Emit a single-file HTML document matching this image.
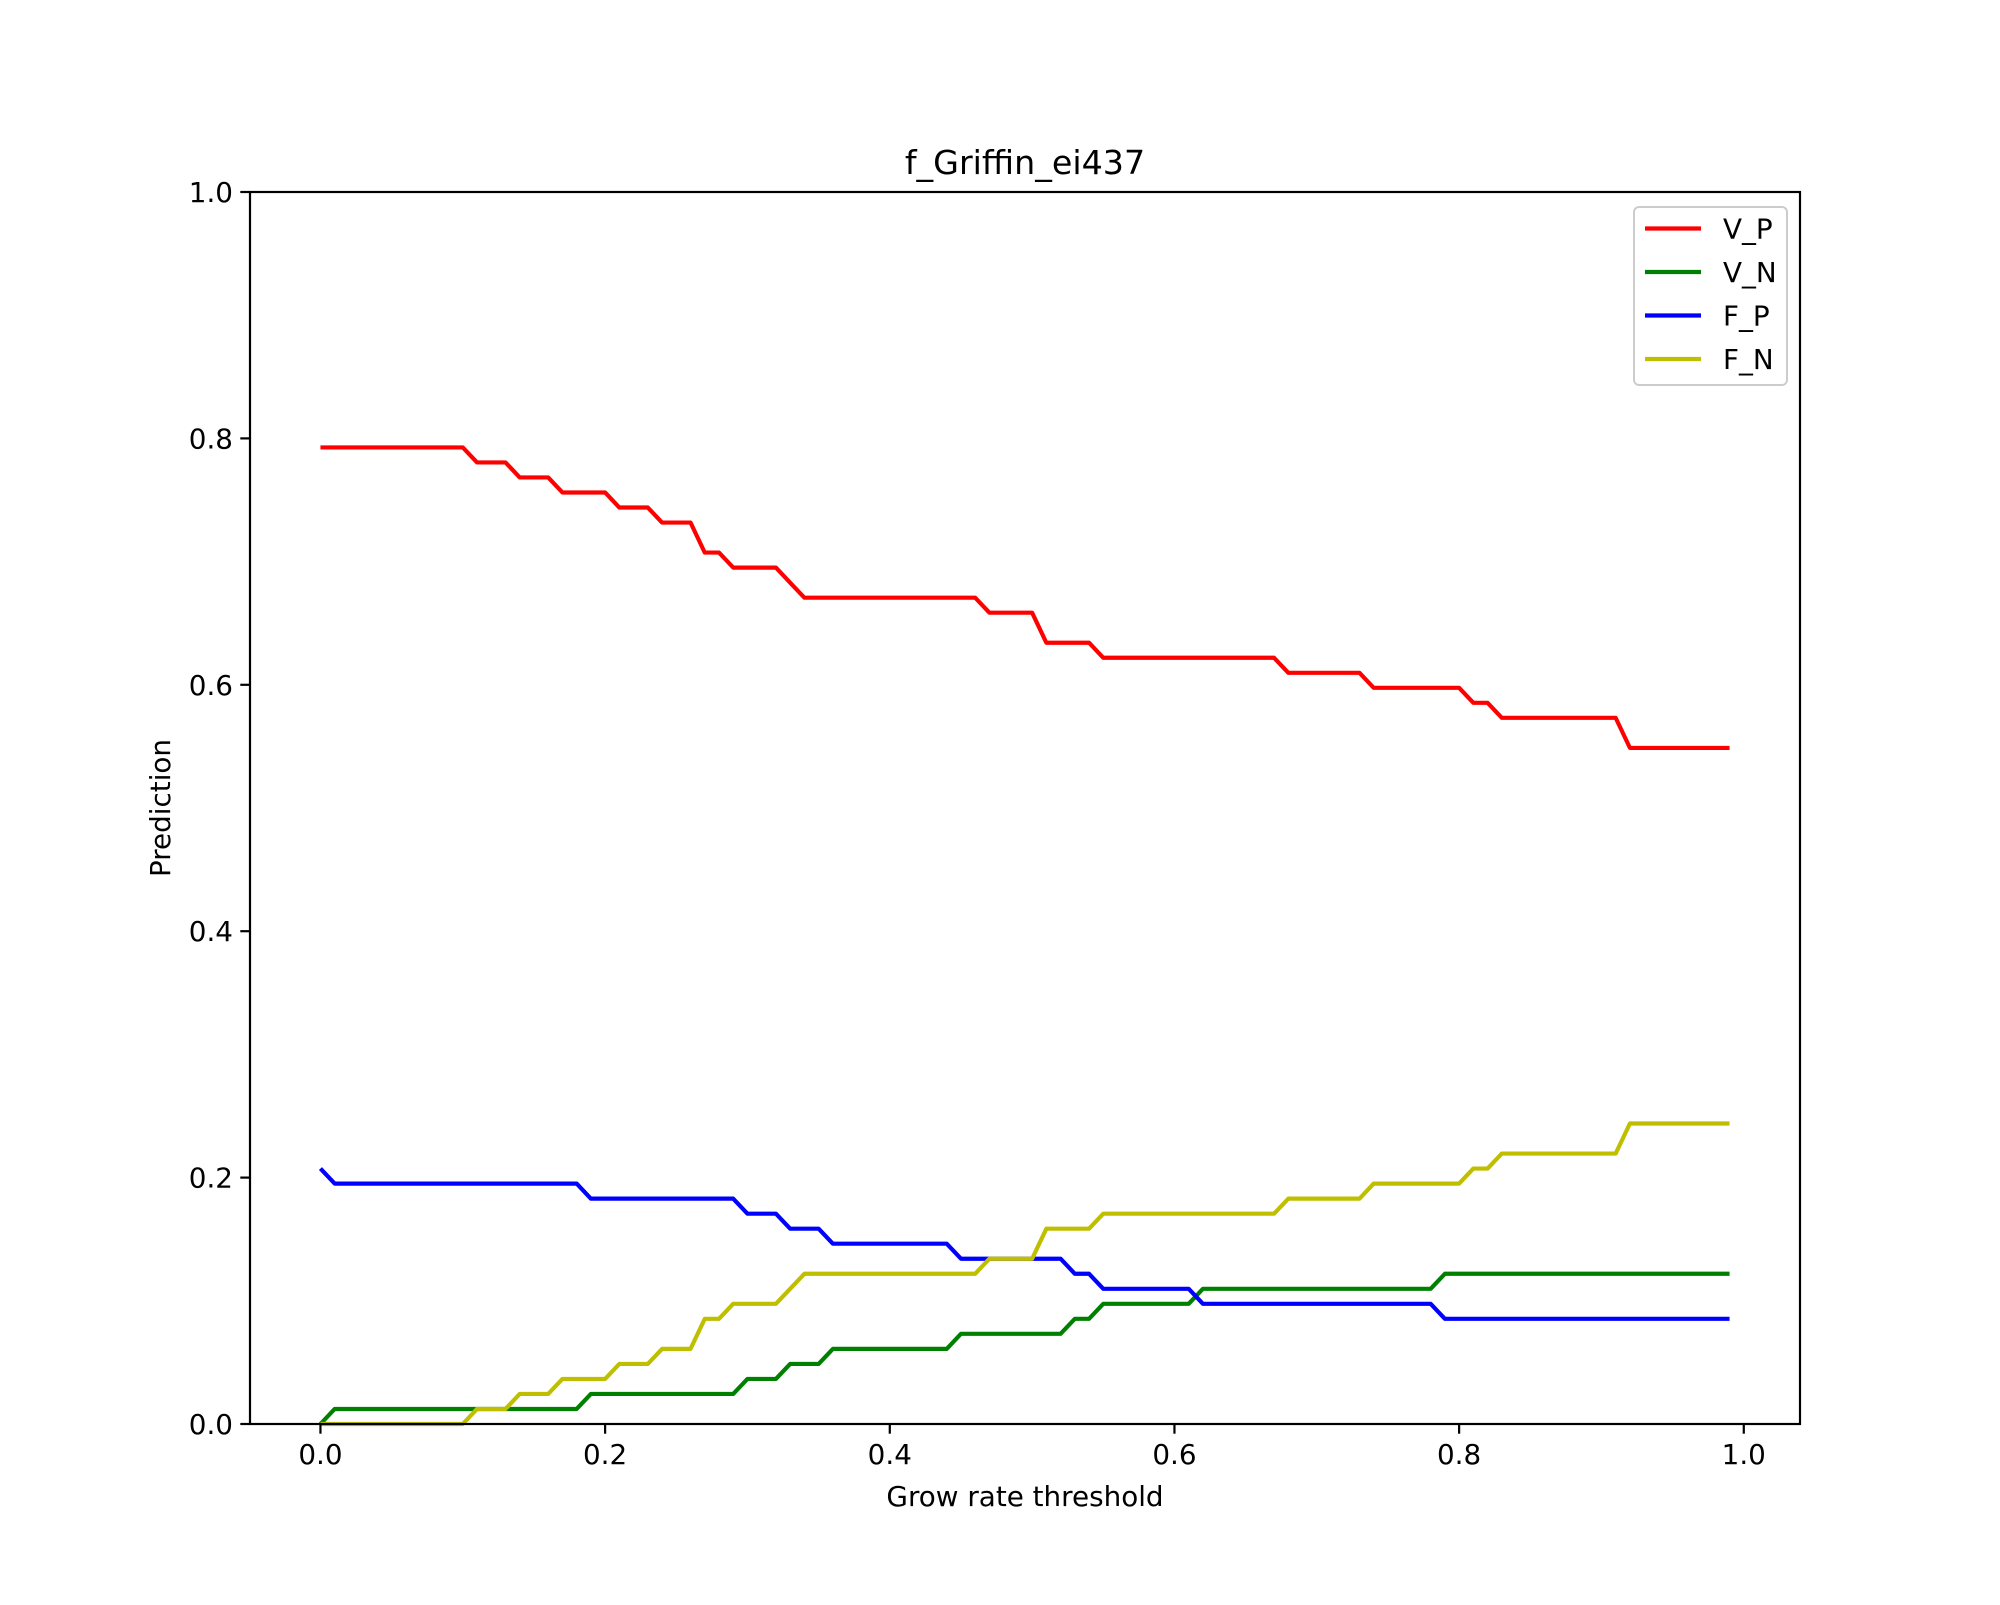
<!DOCTYPE html>
<html><head><meta charset="utf-8"><style>
body{margin:0;background:#fff}
svg text{font-family:"DejaVu Sans","Liberation Sans",sans-serif;fill:#000}
</style></head><body>
<svg id="chart" width="2000" height="1600" viewBox="0 0 2000 1600" xmlns="http://www.w3.org/2000/svg">
<rect width="2000" height="1600" fill="#fff"/>
<g id="plot"></g>
</svg>
<script>
const thresholds = Array.from({length:100},(_,i)=>i/100);
const vpCounts = [];
const fpCounts = [];
const denom = 82;
const xTicks = [0.0,0.2,0.4,0.6,0.8,1.0];
const yTicks = [0.0,0.2,0.4,0.6,0.8,1.0];
const seriesNames = ["V_P","V_N","F_P","F_N"];
const seriesColors = ["#ff0000","#008000","#0000ff","#bfbf00"];
const vpSteps = [[0,65],[11,64],[14,63],[17,62],[21,61],[24,60],[27,58],[29,57],[33,56],[34,55],[47,54],[51,52],[55,51],[68,50],[74,49],[81,48],[83,47],[92,45]];
const fpSteps = [[0,17],[1,16],[19,15],[30,14],[33,13],[36,12],[45,11],[53,10],[55,9],[62,8],[79,7]];
function expand(steps,out){let j=0;for(let i=0;i<100;i++){while(j+1<steps.length&&steps[j+1][0]<=i)j++;out.push(steps[j][1]);}}
expand(vpSteps,vpCounts);expand(fpSteps,fpCounts);
const VP=vpCounts.map(c=>c/denom), FN=vpCounts.map(c=>(65-c)/denom);
const FP=fpCounts.map(c=>c/denom), VN=fpCounts.map(c=>(17-c)/denom);
const series=[VP,VN,FP,FN];
const L=250,R=1800,T=192,B=1424;
const xmin=-0.0495,xmax=1.0395;
const X=v=>L+(v-xmin)/(xmax-xmin)*(R-L);
const Y=v=>B-v*(B-T);
const ns="http://www.w3.org/2000/svg";
const g=document.getElementById('plot');
function mk(t,a,txt){const e=document.createElementNS(ns,t);for(const k in a)e.setAttribute(k,a[k]);if(txt!==undefined)e.textContent=txt;g.appendChild(e);return e;}
series.forEach((s,k)=>{
 const p=mk('polyline',{points:s.map((v,i)=>X(thresholds[i]).toFixed(2)+','+Y(v).toFixed(2)).join(' '),fill:'none',stroke:seriesColors[k],'stroke-width':4.17,'stroke-linejoin':'round'});
 
 
});
const fr=mk('rect',{x:L,y:T,width:R-L,height:B-T,fill:'none',stroke:'#000','stroke-width':2.2});


xTicks.forEach(v=>{
 const l=mk('line',{x1:X(v),x2:X(v),y1:B,y2:B+9.7,stroke:'#000','stroke-width':2.2});
 
 
 const t=mk('text',{x:X(v),y:B+40,'font-size':27.8,'text-anchor':'middle'},v.toFixed(1));
 
 
});
yTicks.forEach(v=>{
 const l=mk('line',{x1:L-9.7,x2:L,y1:Y(v),y2:Y(v),stroke:'#000','stroke-width':2.2});
 
 
 const t=mk('text',{x:L-17,y:Y(v)+10,'font-size':27.8,'text-anchor':'end'},v.toFixed(1));
 
 
});
let t=mk('text',{x:(L+R)/2,y:B+82,'font-size':27.8,'text-anchor':'middle'},'Grow rate threshold');


t=mk('text',{x:0,y:0,'font-size':27.8,'text-anchor':'middle',transform:`translate(170,${(T+B)/2}) rotate(-90)`},'Prediction');


t=mk('text',{x:(L+R)/2,y:T-18,'font-size':33.3,'text-anchor':'middle'},'f_Griffin_ei437');


const lg=mk('rect',{x:1634,y:207,width:153,height:178,rx:5,fill:'#fff','fill-opacity':0.8,stroke:'#ccc','stroke-width':2});


seriesNames.forEach((n,k)=>{
 const yy=228.5+k*43.5;
 const l=mk('line',{x1:1645,x2:1701,y1:yy,y2:yy,stroke:seriesColors[k],'stroke-width':4.17});
 
 
 const tt=mk('text',{x:1723,y:yy+10,'font-size':27.8},n);
 
 
});
</script>
</body></html>
